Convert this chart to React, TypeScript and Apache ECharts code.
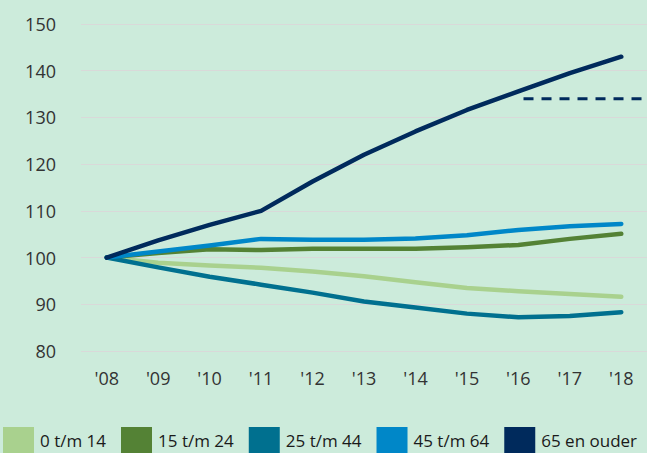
import React, { useEffect, useRef } from "react";
import * as echarts from "echarts";

const years = ["'08", "'09", "'10", "'11", "'12", "'13", "'14", "'15", "'16", "'17", "'18"];
const seriesNames = ["0 t/m 14", "15 t/m 24", "25 t/m 44", "45 t/m 64", "65 en ouder"];
const age0to14 = [100, 98.9, 98.3, 97.8, 97.0, 96.0, 94.7, 93.5, 92.8, 92.2, 91.6];
const age15to24 = [100, 101.0, 101.8, 101.6, 101.9, 101.9, 101.9, 102.2, 102.7, 104.0, 105.1];
const age25to44 = [100, 97.9, 95.9, 94.2, 92.5, 90.6, 89.3, 88.0, 87.2, 87.5, 88.3];
const age45to64 = [100, 101.3, 102.6, 104.0, 103.8, 103.8, 104.1, 104.8, 105.9, 106.7, 107.2];
const age65plus = [100, 103.7, 107.0, 110.0, 116.3, 122.0, 127.0, 131.6, 135.6, 139.5, 143.0];
const dashedLine = [[8.1, 134], [10.6, 134]];
const colors = ["#A9D18E", "#548235", "#00708F", "#0087C8", "#002A5C"];

export default function App() {
  const ref = useRef<HTMLDivElement>(null);
  useEffect(() => {
    const chart = echarts.init(ref.current!, undefined, { renderer: "svg" });
    const values = [age0to14, age15to24, age25to44, age45to64, age65plus];
    const font = "'Open Sans', sans-serif";
    chart.setOption({
      animation: false,
      backgroundColor: "#CCEBDB",
      color: colors,
      grid: { left: 81, right: -8, top: 24, bottom: 102, containLabel: false },
      legend: {
        type: "plain",
        data: seriesNames.map((n) => ({ name: n, icon: "rect" })),
        left: 3,
        top: 427,
        width: 720,
        padding: 0,
        itemWidth: 31,
        itemHeight: 27,
        itemGap: 15,
        textStyle: { fontFamily: font, fontSize: 17, color: "#1a1a1a", padding: [0, 0, 0, 1] },
      },
      xAxis: [
        {
          type: "category",
          data: years,
          boundaryGap: true,
          axisLine: { show: false },
          axisTick: { show: false },
          axisLabel: { fontFamily: font, fontSize: 18, color: "#333", margin: 18 },
        },
        { type: "value", min: -0.5, max: 10.5, show: false },
      ],
      yAxis: {
        type: "value",
        min: 80,
        max: 150,
        interval: 10,
        axisLine: { show: false },
        axisTick: { show: false },
        splitLine: { lineStyle: { color: "#D9D9D9", width: 1 } },
        axisLabel: { fontFamily: font, fontSize: 18, color: "#333", margin: 25 },
      },
      series: [
        ...seriesNames.map((name, i) => ({
          name,
          type: "line",
          data: values[i],
          symbol: "none",
          smooth: false,
          lineStyle: { width: 4.5, color: colors[i], cap: "round", join: "round" },
          itemStyle: { color: colors[i] },
          z: i === 4 ? 5 : 2 + i * 0.1,
        })),
        {
          name: "dashed",
          type: "line",
          xAxisIndex: 1,
          data: dashedLine,
          symbol: "none",
          clip: false,
          lineStyle: { width: 3, color: colors[4], type: [10, 8] },
          silent: true,
        },
      ],
    });
    return () => chart.dispose();
  }, []);
  return <div ref={ref} style={{ position: "fixed", left: 0, top: 0, width: 647, height: 453 }} />;
}
